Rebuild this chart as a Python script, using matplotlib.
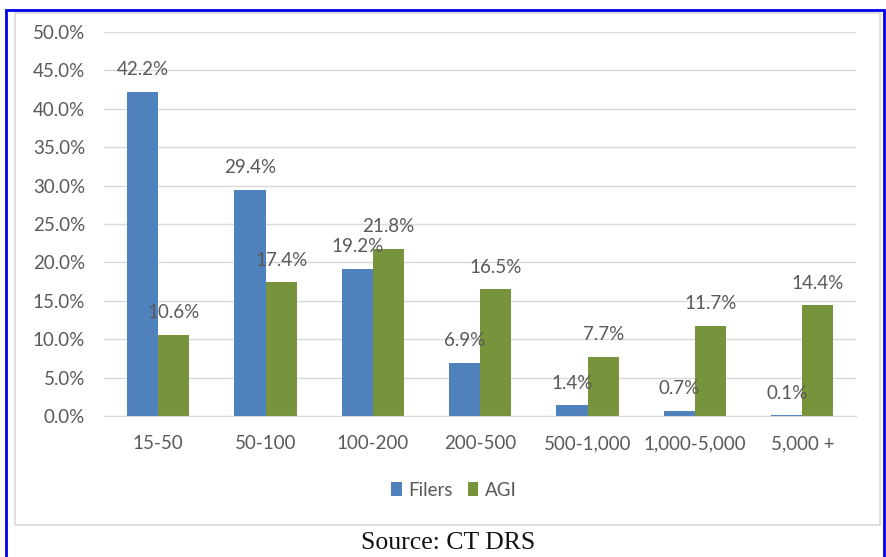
import numpy as np
import matplotlib.pyplot as plt
from matplotlib.patches import Rectangle
from matplotlib.ticker import PercentFormatter

# income brackets ($ thousands) and shares
brackets = ["15-50", "50-100", "100-200", "200-500", "500-1,000", "1,000-5,000", "5,000 +"]
filers = [42.2, 29.4, 19.2, 6.9, 1.4, 0.7, 0.1]
agi = [10.6, 17.4, 21.8, 16.5, 7.7, 11.7, 14.4]

blue = "#4F81BD"
green = "#77933C"
grey_txt = "#595959"
fs = 13.5

plt.rcParams['font.family'] = ['Lato', 'DejaVu Sans']

fig = plt.figure(figsize=(8.87, 5.57), dpi=100)
ax = fig.add_axes([104.5 / 887, 141 / 557, 751.5 / 887, 384 / 557])

x = np.arange(len(brackets))
w = 0.29
b1 = ax.bar(x - w / 2, filers, w, color=blue, label="Filers")
b2 = ax.bar(x + w / 2, agi, w, color=green, label="AGI")

for bars, vals in ((b1, filers), (b2, agi)):
    for r, v in zip(bars, vals):
        ax.annotate(f"{v:.1f}%", (r.get_x() + r.get_width() / 2, v),
                    xytext=(0, 16), textcoords="offset points",
                    ha="center", va="center", fontsize=fs, color=grey_txt)

ax.set_ylim(0, 50)
ax.set_xlim(-0.5, len(brackets) - 0.5)
ax.set_yticks(np.arange(0, 51, 5))
ax.yaxis.set_major_formatter(PercentFormatter(decimals=1))
ax.set_xticks(x)
ax.set_xticklabels(brackets)
ax.tick_params(axis="y", length=0, pad=14, labelsize=fs, labelcolor=grey_txt)
ax.tick_params(axis="x", length=0, pad=14, labelsize=fs, labelcolor=grey_txt)
ax.grid(axis="y", color="#D9D9D9", linewidth=1)
ax.set_axisbelow(True)
for s in ("top", "right", "left"):
    ax.spines[s].set_visible(False)
ax.spines["bottom"].set_color("#D9D9D9")

leg = fig.legend(handles=[b1, b2], labels=["Filers", "AGI"], loc="center",
                 bbox_to_anchor=(454 / 887, 1 - 490 / 557), ncol=2, frameon=False,
                 fontsize=fs, handlelength=0.55, handleheight=0.85,
                 handletextpad=0.35, columnspacing=0.8)
for t in leg.get_texts():
    t.set_color(grey_txt)

# chart area frame and outer border
fig.patches.append(Rectangle((15 / 887, 1 - 525 / 557), 865 / 887, 512 / 557,
                             transform=fig.transFigure, fill=False,
                             edgecolor="#D9D9D9", linewidth=1.2))
fig.patches.append(Rectangle((6 / 887, -0.05), 878 / 887, 1.05 - 10 / 557,
                             transform=fig.transFigure, fill=False,
                             edgecolor="#0000EE", linewidth=2))

fig.text(448 / 887, 1 - 543 / 557, "Source: CT DRS", ha="center", va="center",
         fontsize=18.5, family=["Liberation Serif", "DejaVu Serif"], color="#111111")

fig.savefig("out.png", dpi=100)
